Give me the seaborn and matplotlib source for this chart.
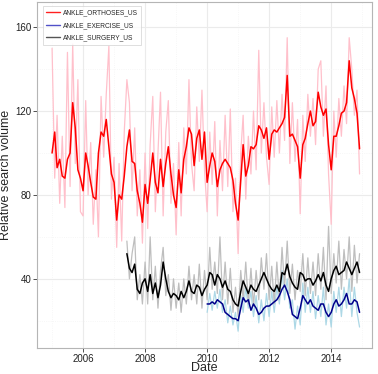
import pandas as pd
import numpy as np
import matplotlib
matplotlib.use('Agg')
import matplotlib.pyplot as plt
import matplotlib.dates as mdates
from matplotlib.lines import Line2D
import seaborn as sns

# monthly values (smoothed line + raw weekly-ish line)
orthoses_smooth = [
    100, 110, 93, 97, 89, 88, 97, 100, 124, 112, 92, 88,    # 2005
    82, 100, 94, 86, 79, 78, 100, 110, 108, 116, 103, 90,   # 2006
    86, 68, 80, 78, 89, 103, 111, 96, 95, 82, 76, 67,       # 2007
    85, 76, 87, 100, 86, 81, 97, 84, 95, 103, 90, 80,       # 2008
    74, 92, 81, 97, 103, 112, 109, 94, 107, 111, 97, 110,   # 2009
    86, 94, 100, 96, 84, 92, 95, 97, 95, 93, 87, 76,        # 2010
    68, 87, 104, 89, 94, 103, 102, 104, 113, 111, 107, 112, # 2011
    97, 109, 111, 110, 112, 114, 117, 137, 108, 109, 106, 103,  # 2012
    88, 104, 107, 114, 120, 113, 115, 129, 122, 118, 121, 104,  # 2013
    92, 108, 108, 113, 119, 120, 124, 144, 131, 126, 119, 102,  # 2014
]
orthoses_raw = [
    150, 88, 118, 76, 108, 74, 148, 84, 152, 95, 135, 72,
    70, 125, 80, 105, 66, 92, 60, 127, 98, 128, 151, 78,
    98, 55, 95, 58, 110, 135, 124, 82, 112, 70, 92, 57,
    100, 64, 104, 127, 72, 100, 129, 70, 110, 125, 76, 95,
    61, 105, 70, 112, 90, 135, 95, 82, 122, 96, 130, 92,
    72, 110, 85, 115, 70, 106, 82, 118, 84, 121, 72, 88,
    52, 100, 118, 78, 108, 90, 120, 92, 149, 100, 124, 98,
    85, 122, 98, 125, 100, 128, 106, 155, 95, 124, 96, 116,
    71, 118, 96, 128, 108, 126, 104, 140, 144, 108, 132, 90,
    66, 120, 98, 126, 108, 132, 114, 155, 140, 118, 130, 90,
]

# surgery starts mid 2007
surgery_smooth = [
    52, 45, 43, 47, 35, 33, 38,
    40, 34, 42, 33, 38, 31, 37, 48, 40, 34, 31, 33,
    32, 30, 34, 31, 34, 39, 34, 33, 37, 36, 32, 35,
    37, 43, 42, 37, 42, 40, 36, 39, 35, 34, 30, 28,
    27, 34, 39, 36, 33, 37, 35, 34, 37, 40, 43, 40,
    37, 35, 34, 37, 34, 43, 42, 47, 41, 38, 36, 35,
    43, 42, 39, 40, 40, 37, 39, 42, 39, 43, 37, 34,
    40, 44, 46, 42, 43, 44, 48, 45, 42, 45, 48, 43,
]
surgery_raw = [
    58, 40, 52, 60, 30, 42, 28,
    48, 28, 60, 30, 46, 26, 44, 55, 32, 42, 25, 40,
    26, 38, 24, 40, 28, 46, 30, 42, 28, 47, 26, 44,
    30, 55, 35, 48, 33, 60, 30, 48, 28, 45, 24, 36,
    22, 44, 30, 48, 28, 45, 27, 44, 30, 50, 35, 52,
    30, 46, 28, 48, 30, 55, 36, 58, 33, 47, 30, 44,
    34, 52, 32, 50, 33, 48, 32, 52, 35, 55, 30, 65,
    33, 52, 38, 58, 35, 54, 40, 60, 34, 56, 38, 52,
]

# exercise starts 2010
exercise_smooth = [
    28, 28, 29, 28, 30, 29, 28, 24, 23, 22, 21, 21,
    20, 26, 31, 29, 30, 25, 28, 26, 23, 24, 26, 27,
    27, 28, 29, 30, 32, 35, 37, 34, 30, 23, 22, 21,
    26, 32, 30, 28, 30, 27, 26, 25, 28, 28, 24, 22,
    24, 28, 30, 27, 28, 30, 33, 28, 28, 30, 29, 24,
]
exercise_raw = [
    24, 33, 25, 34, 26, 35, 24, 30, 19, 27, 18, 24,
    15, 32, 24, 36, 26, 34, 22, 32, 19, 30, 20, 33,
    22, 34, 24, 36, 28, 44, 30, 40, 26, 30, 16, 27,
    18, 38, 24, 36, 24, 34, 21, 32, 22, 36, 18, 28,
    17, 34, 24, 36, 22, 36, 26, 40, 22, 36, 24, 17,
]

dates_orth = pd.date_range('2005-01-01', periods=len(orthoses_smooth), freq='MS')
dates_surg = pd.date_range('2007-06-01', periods=len(surgery_smooth), freq='MS')
dates_exer = pd.date_range('2010-01-01', periods=len(exercise_smooth), freq='MS')

sns.set(style='whitegrid')
plt.rcParams['font.family'] = ['Liberation Sans', 'DejaVu Sans']

fig = plt.figure(figsize=(3.78, 3.74), dpi=100)
ax = fig.add_axes([0.098, 0.0695, 0.886, 0.925])
ax.set_facecolor('white')

# raw lines first, smoothed on top
sns.lineplot(x=dates_orth, y=orthoses_raw, color='#ffc0cb', lw=0.9, ax=ax)
sns.lineplot(x=dates_exer, y=exercise_raw, color='#add8e6', lw=0.9, ax=ax)
sns.lineplot(x=dates_surg, y=surgery_raw, color='#bebebe', lw=0.9, ax=ax)
sns.lineplot(x=dates_orth, y=orthoses_smooth, color='#ff0000', lw=1.1, ax=ax)
sns.lineplot(x=dates_exer, y=exercise_smooth, color='#00008b', lw=1.1, ax=ax)
sns.lineplot(x=dates_surg, y=surgery_smooth, color='#000000', lw=1.1, ax=ax)

ax.set_xlim(pd.Timestamp('2004-07-08'), pd.Timestamp('2015-04-26'))
ax.set_ylim(7, 172)
ax.set_yticks([40, 80, 120, 160])
ax.set_yticks([20, 60, 100, 140], minor=True)
ax.xaxis.set_major_locator(mdates.YearLocator(2))
ax.xaxis.set_minor_locator(mdates.YearLocator(1))
ax.xaxis.set_major_formatter(mdates.DateFormatter('%Y'))

ax.grid(which='major', color='#ebebeb', lw=0.8)
ax.grid(which='minor', color='#f4f4f4', lw=0.6, ls=':')
for s in ax.spines.values():
    s.set_color('#b5b5b5')
    s.set_linewidth(0.8)

ax.tick_params(axis='both', which='major', length=3, width=0.6, color='#333333',
               labelsize=7, pad=1, labelcolor='#222222', bottom=True, left=True)
ax.tick_params(which='minor', length=0)
ax.set_xlabel('Date', fontsize=9, labelpad=-1)
ax.set_ylabel('Relative search volume', fontsize=9, labelpad=2)

handles = [Line2D([], [], color='#ff2020', lw=1.0),
           Line2D([], [], color='#5050c8', lw=1.0),
           Line2D([], [], color='#555555', lw=1.0)]
labels = ['ANKLE_ORTHOSES_US', 'ANKLE_EXERCISE_US', 'ANKLE_SURGERY_US']
leg = ax.legend(handles, labels, loc='upper left', bbox_to_anchor=(0.018, 0.988),
                fontsize=4.8, frameon=True, handlelength=2.0, handletextpad=0.5,
                labelspacing=0.8, borderpad=0.5, borderaxespad=0, fancybox=False)
leg.get_frame().set_edgecolor('#d0d0d0')
leg.get_frame().set_linewidth(0.6)

fig.savefig('out.png', dpi=100)
